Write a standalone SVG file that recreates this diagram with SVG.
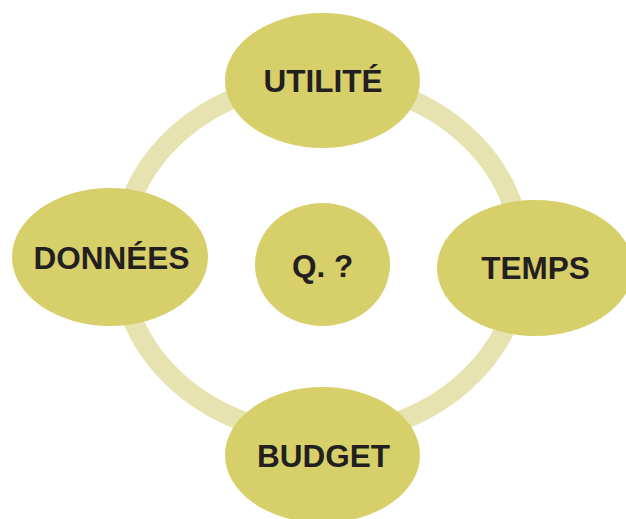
<svg xmlns="http://www.w3.org/2000/svg" width="626" height="519" viewBox="0 0 626 519">
  <style>
    .node { fill: #D7CF69; }
    .ring { fill: none; stroke: #E7E3B1; stroke-width: 20; }
    .label { font-family: "Liberation Sans", Arial, sans-serif; font-weight: bold; font-size: 31.5px; fill: #231F20; text-anchor: middle; }
  </style>
  <rect width="626" height="519" fill="#FFFFFF"/>
  <g id="connectors">
    <ellipse class="ring" cx="321" cy="258" rx="201" ry="177"/>
  </g>
  <g id="node-utilite">
    <ellipse class="node" cx="322.5" cy="80.5" rx="97.5" ry="67.5"/>
    <text class="label" x="323" y="92">UTILITÉ</text>
  </g>
  <g id="node-donnees">
    <ellipse class="node" cx="110" cy="257" rx="98" ry="69"/>
    <text class="label" x="111.5" y="269">DONNÉES</text>
  </g>
  <g id="node-temps">
    <ellipse class="node" cx="535" cy="268" rx="98" ry="68"/>
    <text class="label" x="535.5" y="279">TEMPS</text>
  </g>
  <g id="node-budget">
    <ellipse class="node" cx="322.5" cy="455" rx="97.5" ry="68"/>
    <text class="label" x="323.5" y="467">BUDGET</text>
  </g>
  <g id="node-question">
    <ellipse class="node" cx="322.5" cy="264.5" rx="67.5" ry="61.5"/>
    <text class="label" x="322.5" y="277">Q. ?</text>
  </g>
</svg>
